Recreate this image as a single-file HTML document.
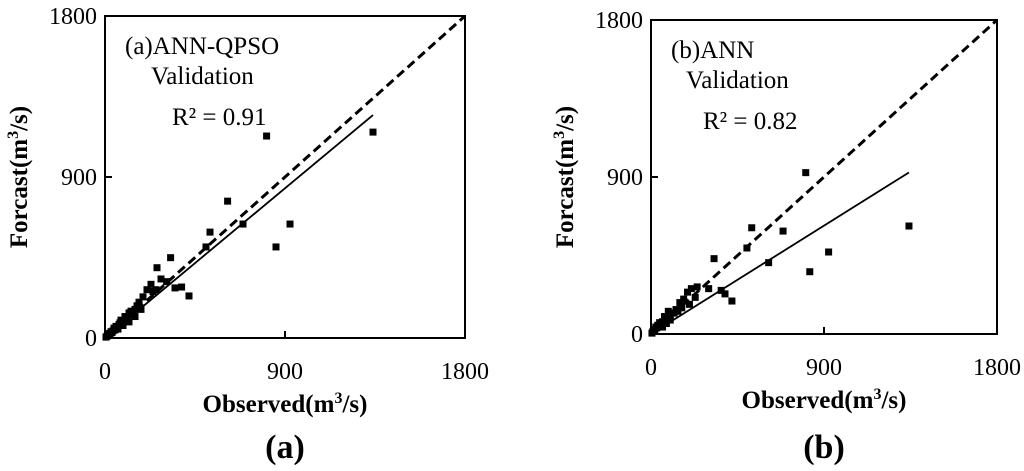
<!DOCTYPE html>
<html><head><meta charset="utf-8">
<style>
body{margin:0;background:#fff;}
svg{display:block;font-family:"Liberation Serif",serif;}
</style></head>
<body>
<svg id="chart" width="1024" height="471" viewBox="0 0 1024 471" xmlns="http://www.w3.org/2000/svg"></svg>
<script>
const ticks = [0, 900, 1800];
const tickLabels = ["0", "900", "1800"];
// Panel (a) ANN-QPSO
const aObs = [808,1340,613,925,690,855,525,505,328,260,420,383,350,308,255,280,240,210,230,190,170,150,160,130,140,120,110,100,95,85,80,70,60,55,50,45,40,35,30,25,20,15,10,5,120,150,180,90,75,65];
const aFor = [1129,1151,765,637,637,509,592,509,449,393,235,285,280,315,270,330,260,270,300,230,200,160,180,150,130,140,110,120,95,80,100,75,60,65,45,55,40,30,35,20,25,15,10,5,90,120,160,70,85,50];
const aFit = [0, 0.93];
const aFitMax = 1340;
// Panel (b) ANN
const bObs = [805,1342,524,687,924,826,612,499,328,421,365,385,300,240,210,190,170,150,160,130,140,120,110,100,90,80,70,60,50,45,40,35,30,25,20,15,10,5,100,80,60,200,230];
const bFor = [925,619,609,590,470,357,409,493,432,189,250,230,260,270,260,240,200,180,150,140,130,120,120,100,130,90,100,70,60,65,45,50,35,40,25,20,15,5,80,60,40,170,210];
const bFit = [0, 0.69];
const bFitMax = 1342;

const NS = "http://www.w3.org/2000/svg";
const svg = document.getElementById('chart');
function mk(tag, attrs, parent){const e=document.createElementNS(NS,tag);for(const k in attrs)e.setAttribute(k,attrs[k]);(parent||svg).appendChild(e);return e;}

function panel(id, p, obs, fore, fit, fitMax, title, r2, letter){
  const g = mk('g',{});
  
  
  const sx = v => p.x0 + v/1800*(p.x1-p.x0);
  const sy = v => p.y1 - v/1800*(p.y1-p.y0);
  const frame = mk('rect',{x:p.x0,y:p.y0,width:p.x1-p.x0,height:p.y1-p.y0,fill:'none',stroke:'#000','stroke-width':2},g);
  
  
  ticks.forEach((t,i)=>{
    const xt = mk('line',{x1:sx(t),x2:sx(t),y1:p.y1,y2:p.y1-7,stroke:'#000','stroke-width':2},g);
    
    
    const yt = mk('line',{x1:p.x0,x2:p.x0+7,y1:sy(t),y2:sy(t),stroke:'#000','stroke-width':2},g);
    
    
    const xl = mk('text',{x:sx(t),y:p.y1+41,'font-size':24,'text-anchor':'middle'},g);
    xl.textContent = tickLabels[i];
    
    
    const yl = mk('text',{x:p.x0-8,y:sy(t)+8,'font-size':24,'text-anchor':'end'},g);
    yl.textContent = tickLabels[i];
    
    
  });
  const diag = mk('line',{x1:sx(0),y1:sy(0),x2:sx(1800),y2:sy(1800),stroke:'#000','stroke-width':3,'stroke-dasharray':'9,5'},g);
  
  
  const fl = mk('line',{x1:sx(0),y1:sy(fit[0]),x2:sx(fitMax),y2:sy(fit[0]+fit[1]*fitMax),stroke:'#000','stroke-width':1.8},g);
  
  
  obs.forEach((o,i)=>{
    const pt = mk('rect',{x:sx(o)-3.5,y:sy(fore[i])-3.5,width:7,height:7,fill:'#000'},g);
    
    
  });
  const t1 = mk('text',{x:p.x0+(id==='a'?20:20),y:p.y0+38,'font-size':25},g);
  t1.textContent = title;
  
  
  const t2 = mk('text',{x:p.x0+(id==='a'?46:35),y:p.y0+68,'font-size':25},g);
  t2.textContent = 'Validation';
  
  
  const t3 = mk('text',{x:p.x0+(id==='a'?67:52),y:p.y0+109,'font-size':25},g);
  t3.textContent = r2;
  
  
  const cx = (p.x0+p.x1)/2;
  const xa = mk('text',{x:cx,y:p.y1+74,'font-size':25,'font-weight':'bold','text-anchor':'middle'},g);
  xa.innerHTML = 'Observed(m<tspan dy="-9" font-size="16">3</tspan><tspan dy="9">/s)</tspan>';
  
  
  const cy = (p.y0+p.y1)/2;
  const ya = mk('text',{x:0,y:0,'font-size':25,'font-weight':'bold','text-anchor':'middle',transform:`translate(${p.x0-78},${cy}) rotate(-90)`},g);
  ya.innerHTML = 'Forcast(m<tspan dy="-9" font-size="16">3</tspan><tspan dy="9">/s)</tspan>';
  
  
  const lt = mk('text',{x:cx,y:458,'font-size':34,'font-weight':'bold','text-anchor':'middle'},g);
  lt.textContent = letter;
  
  
}
panel('a',{x0:105,x1:465,y0:16,y1:338},aObs,aFor,aFit,aFitMax,'(a)ANN-QPSO','R² = 0.91','(a)');
panel('b',{x0:651,x1:997,y0:20,y1:334},bObs,bFor,bFit,bFitMax,'(b)ANN','R² = 0.82','(b)');
</script>
</body></html>
